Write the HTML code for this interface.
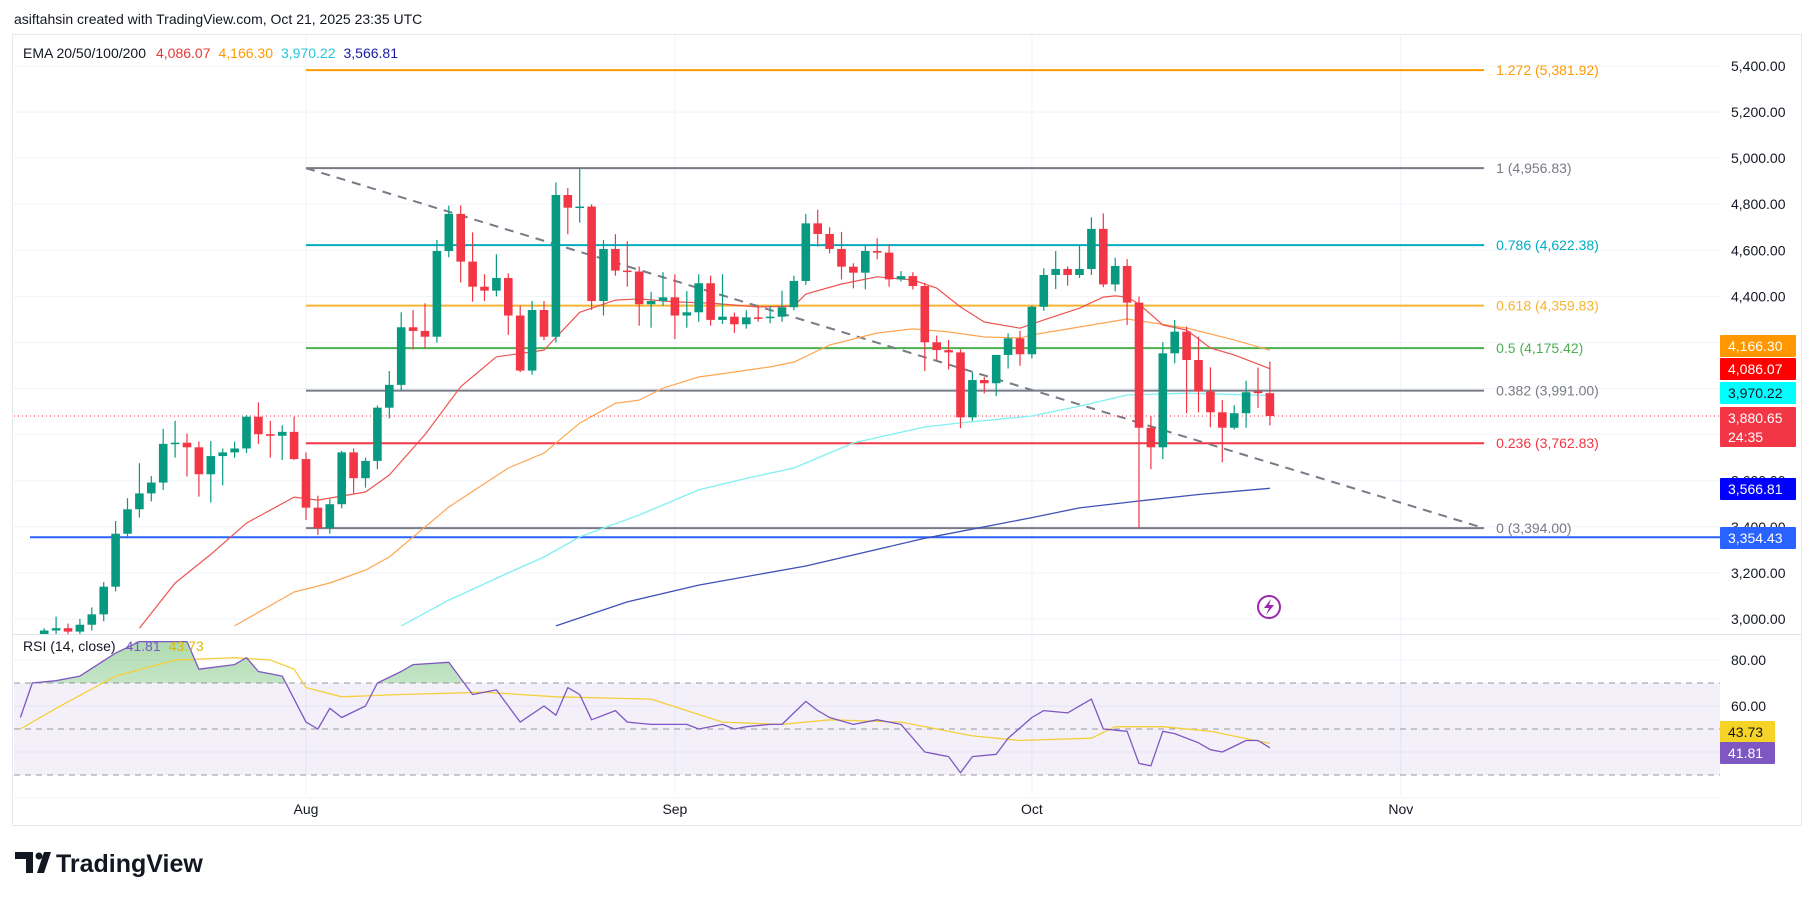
<!DOCTYPE html>
<html><head><meta charset="utf-8">
<style>
html,body{margin:0;padding:0;background:#fff;}
body{width:1814px;height:900px;overflow:hidden;font-family:"Liberation Sans",Arial,sans-serif;}
svg text{font-family:"Liberation Sans",Arial,sans-serif;}
</style></head>
<body>
<svg id="chart" width="1814" height="900" viewBox="0 0 1814 900" xmlns="http://www.w3.org/2000/svg">
<defs>
<clipPath id="pricePane"><rect x="14" y="35" width="1706" height="599"/></clipPath>
<clipPath id="rsiPane"><rect x="14" y="635" width="1706" height="160"/></clipPath>
<linearGradient id="obGrad" x1="0" y1="0" x2="0" y2="1"><stop offset="0" stop-color="#4caf50" stop-opacity="0.45"/><stop offset="1" stop-color="#4caf50" stop-opacity="0.05"/></linearGradient>
</defs>
<text x="14" y="24" font-size="14" fill="#131722">asiftahsin created with TradingView.com, Oct 21, 2025 23:35 UTC</text>
<rect x="12.5" y="34.5" width="1789" height="791" fill="#fff" stroke="#e6e8ee"/>
<g id="grid"></g>
<g id="rsiBg"></g>
<g id="fib"></g>
<g id="price" clip-path="url(#pricePane)"></g>
<g id="rsi" clip-path="url(#rsiPane)"></g>
<g id="axes"></g>
<g id="badges"></g>
<line x1="13" y1="634.5" x2="1801" y2="634.5" stroke="#e0e3eb"/>
<text y="58" font-size="14"><tspan x="23" fill="#131722">EMA 20/50/100/200</tspan><tspan dx="10" fill="#e53935">4,086.07</tspan><tspan dx="8" fill="#ff9800">4,166.30</tspan><tspan dx="8" fill="#26c6da">3,970.22</tspan><tspan dx="8" fill="#1a1aa6">3,566.81</tspan></text>
<text y="651" font-size="14"><tspan x="23" fill="#131722">RSI (14, close)</tspan><tspan dx="10" fill="#7e57c2">41.81</tspan><tspan dx="8" fill="#e0b800">43.73</tspan></text>
<g><circle cx="1269" cy="607" r="11" fill="#fff" stroke="#9c27b0" stroke-width="2"/><path d="M1271 599 L1264 608 L1269 608 L1266 615 L1274 605 L1269 605 Z" fill="#9c27b0"/></g>
<g><path d="M15 852 H33 V873 H26 V859 H15 Z" fill="#131722"/><circle cx="39" cy="856" r="3.5" fill="#131722"/><path d="M37 873 L44 852 H51 L44 873 Z" fill="#131722"/><text x="56" y="872" font-size="25" font-weight="bold" fill="#131722">TradingView</text></g>
</svg>
<script>
const startDay = -22; // Jul 10 relative to Aug 1
const opens = [2770,2950,2960,2945,2975,3020,3140,3370,3476,3545,3592,3760,3765,3745,3628,3707,3723,3740,3878,3802,3795,3812,
3694,3483,3394,3498,3723,3611,3686,3917,4016,4266,4250,4225,4597,4758,4551,4442,4425,4480,4317,4078,4341,4225,4840,4785,4790,4380,4606,4512,4508,4366,4380,
4396,4317,4331,4457,4298,4312,4279,4309,4306,4312,4353,4467,4717,4671,4606,4529,4503,4597,4590,4474,4488,4445,4201,4167,4157,3875,4037,4023,4146,4218,
4149,4355,4493,4519,4493,4519,4693,4452,4532,4373,3830,3745,4153,4247,4124,3987,3897,3830,3893,3988,3980];
const highs = [2960,3010,2980,3000,3050,3160,3425,3524,3676,3620,3825,3860,3805,3770,3772,3740,3770,3885,3940,3860,3840,3878,
3723,3535,3520,3730,3740,3700,3926,4076,4331,4340,4370,4645,4794,4795,4678,4496,4583,4500,4360,4380,4380,4895,4870,4956,4800,4645,4670,4640,4530,4420,4505,
4496,4423,4496,4490,4496,4330,4340,4355,4358,4425,4490,4758,4776,4700,4680,4544,4623,4652,4626,4510,4505,4460,4230,4211,4170,4070,4050,4140,4240,4250,
4360,4522,4597,4530,4623,4743,4760,4568,4562,4399,3880,4201,4298,4269,4225,4092,3950,3928,4034,4091,4117];
const lows = [2750,2930,2920,2930,2950,2990,3120,3350,3440,3510,3560,3700,3618,3531,3505,3580,3700,3720,3760,3700,3690,3690,
3430,3365,3370,3480,3545,3570,3650,3870,3990,4170,4175,4200,4570,4460,4377,4380,4400,4233,4071,4060,4210,4200,4670,4720,4341,4317,4490,4442,4273,4264,4360,
4215,4264,4290,4273,4280,4242,4260,4290,4283,4290,4340,4450,4616,4587,4474,4435,4431,4561,4442,4464,4430,4076,4124,4083,3828,3860,3979,3967,4087,4099,
4130,4337,4432,4447,4480,4493,4440,4422,4276,3394,3650,3694,4110,3893,3897,3832,3680,3822,3830,3916,3840];
const closes = [2950,2960,2945,2975,3020,3140,3370,3476,3545,3592,3760,3765,3745,3628,3707,3723,3740,3878,3802,3795,3812,3694,
3483,3394,3498,3723,3611,3686,3917,4016,4266,4250,4225,4597,4758,4551,4442,4425,4480,4317,4078,4341,4225,4840,4785,4790,4380,4606,4512,4508,4366,4380,4396,
4317,4331,4457,4298,4312,4279,4309,4306,4312,4353,4467,4717,4671,4606,4529,4503,4597,4590,4474,4488,4445,4201,4167,4157,3875,4037,4023,4146,4218,4149,
4355,4493,4519,4493,4519,4693,4452,4532,4373,3830,3745,4153,4247,4124,3987,3897,3830,3893,3984,3980,3881];

const ema20Days = [-14,-11,-8,-5,-1,1,5,7,10,13,16,18,20,23,26,28,31,34,38,41,42,45,48,51,53,55,57,60,62,65,67,68,69,70,72,74,76,78,81];
const ema20Vals = [2960,3156,3280,3416,3529,3516,3551,3625,3800,4008,4138,4152,4167,4331,4384,4389,4376,4371,4354,4358,4410,4454,4485,4471,4436,4354,4289,4262,4298,4349,4397,4402,4397,4367,4276,4254,4176,4146,4086];
const ema50Days = [-6,-1,2,5,7,12,17,20,23,26,28,30,33,36,39,41,44,48,51,54,57,60,61,65,69,74,78,81];
const ema50Vals = [2970,3117,3156,3212,3269,3486,3655,3720,3850,3936,3950,4002,4050,4072,4094,4115,4189,4241,4259,4246,4224,4220,4233,4267,4302,4263,4211,4166];
const ema100Days = [8,12,17,20,23,28,33,37,41,46,52,55,61,65,69,74,81];
const ema100Vals = [2970,3082,3200,3269,3356,3451,3560,3610,3655,3764,3833,3851,3881,3924,3972,3980,3970];
const ema200Days = [21,27,33,42,52,61,65,70,75,81];
const ema200Vals = [2970,3074,3147,3230,3350,3440,3482,3512,3540,3567];

const rsiDays = [-24,-23,-21,-19,-16,-14,-10,-9,-6,-5,-4,-2,0,1,2,3,5,6,8,9,12,13,14,16,17,18,20,21,22,23,24,26,27,29,30,32,33,35,36,37,39,40,42,43,44,46,48,50,52,53,54,55,56,58,59,61,62,64,66,67,69,70,71,72,73,75,76,77,79,80,81];
const rsiVals = [55,70,71,73,83,88,88,76,78,81,75,73,53,50,59,55,60,70,75,78,79,72,65,67,60,53,60,56,68,65,54,58,53,52,52,52,50,52,50,51,52,52,62,58,55,52,54,52,40,39,38,31,38,39,46,55,58,57,63,50,49,35,34,49,48,44,41,40,45,45,41.81];
const rsiMaDays = [-24,-21,-16,-11,-6,-3,-1,0,3,8,15,21,29,35,40,44,50,56,60,66,68,72,76,81];
const rsiMaVals = [50,59,73,80,81,80,76,68,64,65,66,64,63,53,52,54,53,47,45,46,51,51,49,43.73];

const priceTicks = [3000,3200,3400,3600,3800,4000,4200,4400,4600,4800,5000,5200,5400];
const rsiTicks = [80,60];
const monthLabels = ["Aug","Sep","Oct","Nov"];
const monthDays = [0,31,61,92];
const fibRatios = ["1.272","1","0.786","0.618","0.5","0.382","0.236","0"];
const fibPrices = [5381.92,4956.83,4622.38,4359.83,4175.42,3991.00,3762.83,3394.00];
const fibColors = ["#ff9800","#787b86","#00acc1","#f5b52f","#4caf50","#787b86","#f23645","#787b86"];
const trendStart = [0,4956.83];
const trendEnd = [99,3394.00];
const supportLevel = 3354.43;
const lastPrice = 3880.65;

const NS = "http://www.w3.org/2000/svg";
const X = d => 306 + d * 11.9;
const Y = p => 66 + (5400 - p) * 0.2304;
const RY = r => 660 + (80 - r) * 2.3;
function mk(tag, attrs, parent){ const e=document.createElementNS(NS,tag); for(const k in attrs) e.setAttribute(k,attrs[k]); parent.appendChild(e); return e; }
const fmt = v => v.toLocaleString("en-US",{minimumFractionDigits:2,maximumFractionDigits:2});

const grid = document.getElementById("grid");
priceTicks.forEach(p=>{
  const l = mk("line",{x1:14,x2:1720,y1:Y(p),y2:Y(p),stroke:"#f0f3fa","stroke-width":1},grid);
  
  
});
monthDays.forEach(d=>{
  const l = mk("line",{x1:X(d),x2:X(d),y1:35,y2:795,stroke:"#f0f3fa","stroke-width":1},grid);
  
  
});
[80,60,40,20].forEach(r=>{
  const l = mk("line",{x1:14,x2:1720,y1:RY(r),y2:RY(r),stroke:"#f0f3fa","stroke-width":1},grid);
  
  
});

const rb = document.getElementById("rsiBg");
const band = mk("rect",{x:14,y:RY(70),width:1706,height:RY(30)-RY(70),fill:"#7e57c2","fill-opacity":0.09},rb);


[70,50,30].forEach(r=>{
  const l = mk("line",{x1:14,x2:1720,y1:RY(r),y2:RY(r),stroke:"#9598a1","stroke-width":1,"stroke-dasharray":"6,5"},rb);
  
  
});

const fib = document.getElementById("fib");
fibPrices.forEach((p,i)=>{
  const l = mk("line",{x1:X(trendStart[0]),x2:X(trendEnd[0]),y1:Y(p),y2:Y(p),stroke:fibColors[i],"stroke-width":2},fib);
  
  
  const t = mk("text",{x:X(trendEnd[0])+12,y:Y(p)+5,"font-size":14,fill:fibColors[i]},fib);
  t.textContent = fibRatios[i]+" ("+fmt(p)+")";
  
  
});

const pr = document.getElementById("price");
const sup = mk("line",{x1:30,x2:1720,y1:Y(supportLevel),y2:Y(supportLevel),stroke:"#2962ff","stroke-width":2},pr);


const tl = mk("line",{x1:X(trendStart[0]),y1:Y(trendStart[1]),x2:X(trendEnd[0]),y2:Y(trendEnd[1]),stroke:"#787b86","stroke-width":2,"stroke-dasharray":"9,7"},pr);


const pl = mk("line",{x1:14,x2:1720,y1:Y(lastPrice),y2:Y(lastPrice),stroke:"#f23645","stroke-width":1,"stroke-dasharray":"1,3"},pr);



function poly(days, vals, color, name, w){
  const pts = days.map((d,i)=>X(d).toFixed(1)+","+Y(vals[i]).toFixed(1)).join(" ");
  const p = mk("polyline",{points:pts,fill:"none",stroke:color,"stroke-width":w||1.2,"stroke-linejoin":"round"},pr);
  
  
}
poly(ema200Days,ema200Vals,"#3f51b5","ema-200-line",1.3);
poly(ema100Days,ema100Vals,"#80f0f0","ema-100-line",1.3);
poly(ema50Days,ema50Vals,"#ffa552","ema-50-line",1.2);
poly(ema20Days,ema20Vals,"#ef5350","ema-20-line",1.2);

opens.forEach((o,i)=>{
  const d = startDay + i, c = closes[i], x = X(d);
  const col = c >= o ? "#089981" : "#f23645";
  const g = mk("g",{},pr);
  
  
  mk("line",{x1:x,x2:x,y1:Y(highs[i]),y2:Y(lows[i]),stroke:col,"stroke-width":1.2},g);
  const top = Y(Math.max(o,c)), h = Math.max(1.5, Math.abs(Y(o)-Y(c)));
  mk("rect",{x:x-4.3,y:top,width:8.6,height:h,fill:col},g);
});

const rs = document.getElementById("rsi");
const rsiPts = rsiDays.map((d,i)=>[X(d),RY(rsiVals[i])]);
const obClip = mk("clipPath",{id:"obClip"},document.querySelector("defs"));
mk("rect",{x:0,y:0,width:1814,height:RY(70)},obClip);
const areaPts = rsiPts.map(p=>p[0].toFixed(1)+","+p[1].toFixed(1)).join(" ")+" "+rsiPts[rsiPts.length-1][0]+","+RY(70)+" "+rsiPts[0][0]+","+RY(70);
const ob = mk("polygon",{points:areaPts,fill:"url(#obGrad)","clip-path":"url(#obClip)"},rs);


const ma = mk("polyline",{points:rsiMaDays.map((d,i)=>X(d).toFixed(1)+","+RY(rsiMaVals[i]).toFixed(1)).join(" "),fill:"none",stroke:"#f5cf3a","stroke-width":1.3},rs);


const rl = mk("polyline",{points:rsiPts.map(p=>p[0].toFixed(1)+","+p[1].toFixed(1)).join(" "),fill:"none",stroke:"#7e57c2","stroke-width":1.3,"stroke-linejoin":"round"},rs);



const ax = document.getElementById("axes");
priceTicks.forEach(p=>{
  const t = mk("text",{x:1731,y:Y(p)+5,"font-size":14,fill:"#131722"},ax);
  t.textContent = fmt(p);
  
  
});
rsiTicks.forEach(r=>{
  const t = mk("text",{x:1731,y:RY(r)+5,"font-size":14,fill:"#131722"},ax);
  t.textContent = fmt(r);
  
  
});
monthLabels.forEach((m,i)=>{
  const t = mk("text",{x:X(monthDays[i]),y:814,"font-size":14,fill:"#131722","text-anchor":"middle"},ax);
  t.textContent = m;
  
  
});

const bd = document.getElementById("badges");
function badge(yc, txt, bg, fg, name, w, h, txt2){
  const g = mk("g",{},bd);
  
  
  h = h || 22;
  mk("rect",{x:1720,y:yc-11,width:w||76,height:h,fill:bg,rx:1},g);
  const t = mk("text",{x:1728,y:yc+5,"font-size":14,fill:fg},g);
  t.textContent = txt;
  if(txt2){ const t2 = mk("text",{x:1728,y:yc+24,"font-size":14,fill:fg},g); t2.textContent = txt2; }
}
badge(346,"4,166.30","#ff9800","#fff","ema50-badge");
badge(369,"4,086.07","#ff0000","#fff","ema20-badge");
badge(393,"3,970.22","#00ffff","#131722","ema100-badge");
badge(418,"3,880.65","#f23645","#fff","last-price-badge",76,40,"24:35");
badge(489,"3,566.81","#0000ff","#fff","ema200-badge");
badge(538,"3,354.43","#2962ff","#fff","support-badge");
badge(732,"43.73","#f5d327","#131722","rsi-ma-badge",55);
badge(753,"41.81","#7e57c2","#fff","rsi-badge",55);
</script>
</body></html>
